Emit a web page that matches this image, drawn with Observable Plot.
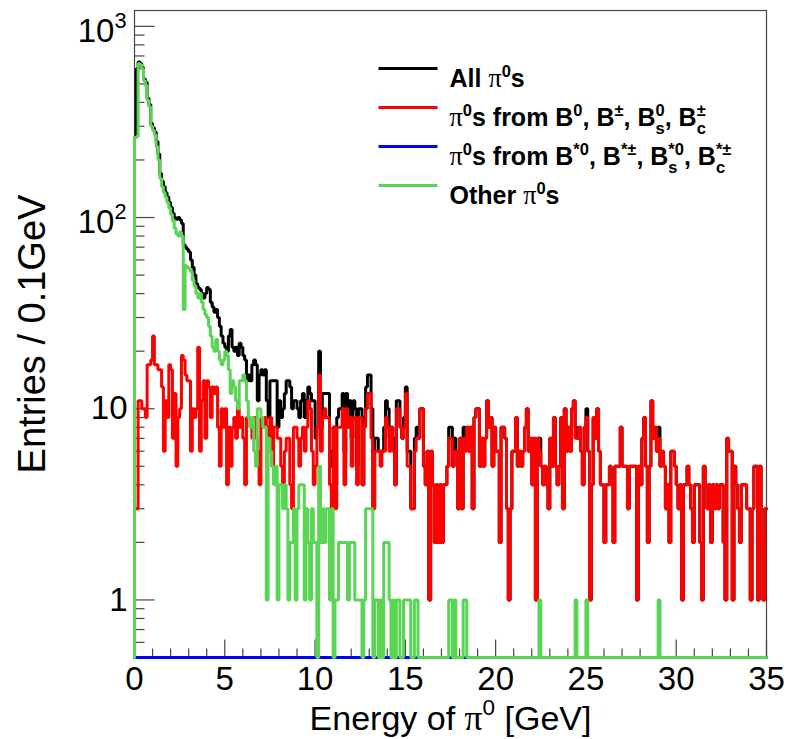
<!DOCTYPE html>
<html><head><meta charset="utf-8">
<script src="https://cdn.jsdelivr.net/npm/d3@7"></script>
<script src="https://cdn.jsdelivr.net/npm/@observablehq/plot@0.6"></script>
<style>
html,body{margin:0;padding:0;background:#fff;}
#chart svg{display:block;}
</style>
</head><body><div id="chart"></div>
<script>
// ---- data (entries per 0.1 GeV bin, 0 - 35 GeV) ----
const binWidth = 0.1;
const xDomain = [0, 35];
const yDomain = [0.5, 1210];

const allPi0 = [
262,600,650,640,610,530,510,420,390,310,
295,280,250,215,170,155,145,135,128,120,
113,105,100,98,100,97,93,72,70,68,
66,60,55,50,45,43,42,40,38,40,
43,42,36,34,32,33,30,27,24,22,
21,20,24,26,21,20,21,19,22,21,
19,18,14,15,14,17,18,17,11,15,
16,15,16,11,9,14,14,14,14,8,
11,9,10,12,14,14,13,10,11,11,
10,9,11,12,9,11,13,12,11,11,
7,8,20,8,12,12,12,12,5,6,
8,4,9,10,10,12,6,12,9,11,
7,11,10,5,10,10,4,9,13,15,
15,10,3,7,7,6,6,6,8,11,
10,7,8,7,4,11,11,8,7,9,
13,6,6,3,3,7,8,7,10,10,
5,4,6,1,6,4,2,4,2,4,
2,4,4,5,8,8,5,7,6,3,
7,3,8,7,8,6,8,3,9,10,
10,5,7,5,7,11,8,9,5,8,
6,6,2,8,8,7,3,1,3,6,
6,9,5,6,5,6,8,10,6,7,
4,7,1,7,7,5,4,5,4,3,
7,5,9,5,4,5,9,3,10,6,
8,6,10,11,8,7,8,6,4,8,
10,6,1,4,9,7,10,6,4,4,
2,4,4,5,4,2,5,5,5,8,
5,5,5,3,5,5,5,5,1,5,
4,7,9,5,2,5,11,7,8,6,
8,5,6,5,3,4,2,6,6,5,
4,3,4,1,4,4,5,4,3,2,
4,4,4,2,1,5,4,3,4,2,
4,3,4,3,4,4,2,1,7,6,
6,1,5,4,3,2,4,4,4,3,
3,1,3,5,5,1,5,2,1,3
];

const fromB = [
3,3,11,11,10,10,9,17,17,18,
24,17,17,16,16,13,6,11,9,17,
16,7,12,5,9,10,19,18,15,14,
14,6,10,9,10,21,6,11,14,7,
14,13,9,13,12,13,8,5,10,8,
10,4,8,5,8,9,7,10,8,9,
7,4,9,9,8,7,9,7,6,4,
9,8,9,8,7,9,5,8,8,7,
7,5,4,6,7,7,4,3,8,8,
7,5,7,8,6,8,11,10,6,4,
5,8,15,6,9,10,9,9,4,3,
8,3,8,8,8,10,4,10,8,9,
5,9,9,4,9,9,4,8,10,12,
12,7,3,6,6,6,5,6,6,9,
8,6,8,6,4,10,10,8,7,8,
12,5,5,3,3,6,7,7,10,10,
5,4,6,1,6,4,2,4,2,4,
2,4,4,5,7,7,5,6,6,3,
7,3,7,6,8,6,8,3,9,10,
10,5,7,5,7,11,8,9,5,8,
6,6,2,8,8,7,3,1,3,6,
6,9,5,6,5,6,8,10,6,7,
4,7,1,7,6,5,4,5,4,3,
7,5,9,5,4,5,9,3,10,6,
8,6,10,11,7,7,8,6,4,8,
9,6,1,4,9,7,10,6,4,4,
2,4,4,5,4,2,5,5,5,8,
5,5,5,3,5,5,5,5,1,5,
4,7,9,5,2,5,11,7,8,6,
7,5,6,5,3,4,2,6,6,5,
4,3,4,1,4,4,5,4,3,2,
4,4,4,2,1,5,4,3,4,2,
4,3,4,3,4,4,2,1,7,6,
6,1,5,4,3,2,4,4,4,3,
3,1,3,5,5,1,5,2,1,3
];

const fromBstar = [
0,0,0,0,0,0,0,0,0,0,0,0,0,0,0,0,0,0,0,0,0,0,0,0,0,0,0,0,0,0,0,0,0,0,0,0,0,0,0,0,0,0,0,0,0,0,0,0,0,0,
0,0,0,0,0,0,0,0,0,0,0,0,0,0,0,0,0,0,0,0,0,0,0,0,0,0,0,0,0,0,0,0,0,0,0,0,0,0,0,0,0,0,0,0,0,0,0,0,0,0,
0,0,0,0,0,0,0,0,0,0,0,0,0,0,0,0,0,0,0,0,0,0,0,0,0,0,0,0,0,0,0,0,0,0,0,0,0,0,0,0,0,0,0,0,0,0,0,0,0,0,
0,0,0,0,0,0,0,0,0,0,0,0,0,0,0,0,0,0,0,0,0,0,0,0,0,0,0,0,0,0,0,0,0,0,0,0,0,0,0,0,0,0,0,0,0,0,0,0,0,0,
0,0,0,0,0,0,0,0,0,0,0,0,0,0,0,0,0,0,0,0,0,0,0,0,0,0,0,0,0,0,0,0,0,0,0,0,0,0,0,0,0,0,0,0,0,0,0,0,0,0,
0,0,0,0,0,0,0,0,0,0,0,0,0,0,0,0,0,0,0,0,0,0,0,0,0,0,0,0,0,0,0,0,0,0,0,0,0,0,0,0,0,0,0,0,0,0,0,0,0,0,
0,0,0,0,0,0,0,0,0,0,0,0,0,0,0,0,0,0,0,0,0,0,0,0,0,0,0,0,0,0,0,0,0,0,0,0,0,0,0,0,0,0,0,0,0,0,0,0,0,0
];

const otherPi0 = [
262,265,640,630,600,520,490,410,380,300,
285,270,235,200,160,145,135,128,120,112,
104,96,88,82,80,84,80,33,56,55,
54,52,47,44,40,38,40,36,33,31,
30,27,24,21,20,23,20,18,17,18,
20,19,16,12,14,13,11,10,14,14,
15,14,11,9,8,9,6,5,10,10,
9,8,8,1,7,6,5,4,5,1,
4,4,3,4,3,1,2,2,3,1,
3,4,4,4,1,3,2,1,3,2,
2,0,5,2,3,2,3,3,1,3,
0,1,1,2,2,2,2,2,1,2,
2,2,1,1,1,1,0,1,3,3,
3,3,0,1,1,0,1,0,2,2,
2,1,0,1,0,1,1,0,0,1,
1,1,1,0,0,1,1,0,0,0,
0,0,0,0,0,0,0,0,0,0,
0,0,0,0,1,1,0,1,0,0,
0,0,1,1,0,0,0,0,0,0,
0,0,0,0,0,0,0,0,0,0,
0,0,0,0,0,0,0,0,0,0,
0,0,0,0,0,0,0,0,0,0,
0,0,0,0,1,0,0,0,0,0,
0,0,0,0,0,0,0,0,0,0,
0,0,0,0,1,0,0,0,0,0,
1,0,0,0,0,0,0,0,0,0,
0,0,0,0,0,0,0,0,0,0,
0,0,0,0,0,0,0,0,0,0,
0,0,0,0,0,0,0,0,0,0,
1,0,0,0,0,0,0,0,0,0,
0,0,0,0,0,0,0,0,0,0,
0,0,0,0,0,0,0,0,0,0,
0,0,0,0,0,0,0,0,0,0,
0,0,0,0,0,0,0,0,0,0,
0,0,0,0,0,0,0,0,0,0
];

const xMajorTicks = [0, 5, 10, 15, 20, 25, 30, 35];
const xMinorTicks = [1,2,3,4,6,7,8,9,11,12,13,14,16,17,18,19,21,22,23,24,26,27,28,29,31,32,33,34];
const yMajorTicks = [1, 10, 100, 1000];
const yMinorTicks = [0.6,0.7,0.8,0.9,2,3,4,5,6,7,8,9,20,30,40,50,60,70,80,90,200,300,400,500,600,700,800,900];
const yTickLabelsPlain = [{value: 1, label: "1"}, {value: 10, label: "10"}];
const yTickLabelsPow = [{value: 100, label: "10^{2}"}, {value: 1000, label: "10^{3}"}];
const xTickLabels = xMajorTicks.map(v => ({value: v, label: String(v)}));
const xTitle = "Energy of #pi^{0} [GeV]";
const yTitle = "Entries / 0.1GeV";
const legendEntries = [
  {label: "All #pi^{0}s", color: "#000000", y: 68},
  {label: "#pi^{0}s from B^{0}, B^{\u00B1}, B_{s}^{0}, B_{c}^{\u00B1}", color: "#ff0000", y: 107},
  {label: "#pi^{0}s from B^{*0}, B^{*\u00B1}, B_{s}^{*0}, B_{c}^{*\u00B1}", color: "#0000ff", y: 146},
  {label: "Other #pi^{0}s", color: "#59d454", y: 185}
];
const seriesList = [
  {name: "all", values: allPi0, color: "#000000"},
  {name: "B", values: fromB, color: "#ff0000"},
  {name: "Bstar", values: fromBstar, color: "#0000ff"},
  {name: "other", values: otherPi0, color: "#59d454"}
];

// ---- helpers ----
function stepRows(values) {
  const lo = yDomain[0];
  const rows = [{x: 0, y: lo}];
  values.forEach((v, i) => rows.push({x: i * binWidth, y: Math.max(v, lo)}));
  rows.push({x: values.length * binWidth, y: Math.max(values[values.length - 1], lo)});
  return rows;
}
const lineShape = {draw(context, l) { context.moveTo(0, 0); context.lineTo(0, -l); }};
const mL = 134, mT = 10;
const tickColor = "#444";

const marks = [
  Plot.frame({stroke: "#444", strokeWidth: 1.2}),
  Plot.vector(xMajorTicks, {x: d => d, y: yDomain[0], length: 18, rotate: 0, anchor: "start", shape: lineShape, stroke: tickColor, strokeWidth: 1.2, strokeLinecap: "butt"}),
  Plot.vector(xMinorTicks, {x: d => d, y: yDomain[0], length: 9, rotate: 0, anchor: "start", shape: lineShape, stroke: tickColor, strokeWidth: 1.2, strokeLinecap: "butt"}),
  Plot.vector(yMajorTicks, {x: xDomain[0], y: d => d, length: 20, rotate: 90, anchor: "start", shape: lineShape, stroke: tickColor, strokeWidth: 1.2, strokeLinecap: "butt"}),
  Plot.vector(yMinorTicks, {x: xDomain[0], y: d => d, length: 10, rotate: 90, anchor: "start", shape: lineShape, stroke: tickColor, strokeWidth: 1.2, strokeLinecap: "butt"}),
  ...seriesList.map(s => Plot.line(stepRows(s.values), {x: "x", y: "y", curve: "step-after", stroke: s.color, strokeWidth: 3, strokeLinejoin: "miter"})),
  Plot.text(xTickLabels, {x: "value", y: yDomain[0], text: "label", dy: 22, fontSize: 33, fill: "black"}),
  Plot.text(yTickLabelsPlain, {x: xDomain[0], y: "value", text: "label", textAnchor: "end", dx: -7, fontSize: 33, fill: "black"}),
  Plot.text(yTickLabelsPow, {x: xDomain[0], y: "value", text: "label", textAnchor: "end", dx: -8, dy: 5, fontSize: 33, fill: "black"}),
  Plot.text([xTitle], {frameAnchor: "bottom", textAnchor: "middle", dy: 72, fontSize: 34, fill: "black"}),
  Plot.text([yTitle], {frameAnchor: "left", textAnchor: "middle", dx: -102, rotate: -90, fontSize: 38, fill: "black"}),
  ...legendEntries.map(e => Plot.vector([e], {frameAnchor: "top-left", dx: 378 - mL, dy: e.y - mT, length: 59, rotate: 90, anchor: "start", shape: lineShape, stroke: e.color, strokeWidth: 3, strokeLinecap: "butt"})),
  ...legendEntries.map(e => Plot.text([e.label], {frameAnchor: "top-left", dx: 449 - mL, dy: e.y - mT + 1, textAnchor: "start", fontSize: 25, fontWeight: "bold", fill: "black"}))
];

const svg = Plot.plot({
  width: 789,
  height: 739,
  marginLeft: mL,
  marginRight: 23,
  marginTop: mT,
  marginBottom: 82,
  style: {background: "#ffffff", fontFamily: "'Liberation Sans', Arial, Helvetica, sans-serif", overflow: "visible"},
  x: {domain: xDomain, axis: null},
  y: {type: "log", domain: yDomain, axis: null},
  marks
});
document.getElementById("chart").append(svg);

// ---- ROOT-like rich text: #pi, ^{sup}, _{sub} ----
function richify(textEl) {
  const src = textEl.textContent;
  const base = parseFloat(getComputedStyle(textEl).fontSize) || 20;
  while (textEl.firstChild) textEl.removeChild(textEl.firstChild);
  const NS = "http://www.w3.org/2000/svg";
  let shift = 0, i = 0, subLen = 0, pendingDx = 0, lastWasSub = false;
  const add = (str, o) => {
    const t = document.createElementNS(NS, "tspan");
    t.textContent = str;
    if (o.size) t.setAttribute("font-size", o.size);
    if (o.family) t.setAttribute("font-family", o.family);
    if (o.weight) t.setAttribute("font-weight", o.weight);
    if (o.dy) t.setAttribute("dy", o.dy);
    if (o.dx) t.setAttribute("dx", o.dx);
    textEl.appendChild(t);
    return t;
  };
  const serif = "'Liberation Serif','DejaVu Serif',serif";
  while (i < src.length) {
    const c = src[i];
    if ((c === "^" || c === "_") && src[i + 1] === "{") {
      const end = src.indexOf("}", i);
      const content = src.slice(i + 2, end);
      i = end + 1;
      const target = c === "^" ? -0.42 * base : 0.3 * base;
      const dx = (c === "^" && lastWasSub) ? -subLen : pendingDx;
      const t = add(content, {size: 0.66 * base, dy: target - shift, dx});
      shift = target;
      if (c === "_") { lastWasSub = true; subLen = t.getComputedTextLength(); pendingDx = 0; }
      else { pendingDx = lastWasSub ? Math.max(0, subLen - t.getComputedTextLength()) : 0; lastWasSub = false; }
    } else if (src.startsWith("#pi", i)) {
      add("\u03C0", {family: serif, weight: "normal", size: 1.05 * base, dy: -shift, dx: pendingDx});
      shift = 0; pendingDx = 0; lastWasSub = false; i += 3;
    } else {
      let j = i;
      while (j < src.length && !((src[j] === "^" || src[j] === "_") && src[j + 1] === "{") && !src.startsWith("#pi", j)) j++;
      add(src.slice(i, j), {dy: -shift, dx: pendingDx});
      shift = 0; pendingDx = 0; lastWasSub = false; i = j;
    }
  }
}
svg.querySelectorAll("text").forEach(t => {
  if (/[\^_]\{|#pi/.test(t.textContent)) richify(t);
});
</script>
</body></html>
